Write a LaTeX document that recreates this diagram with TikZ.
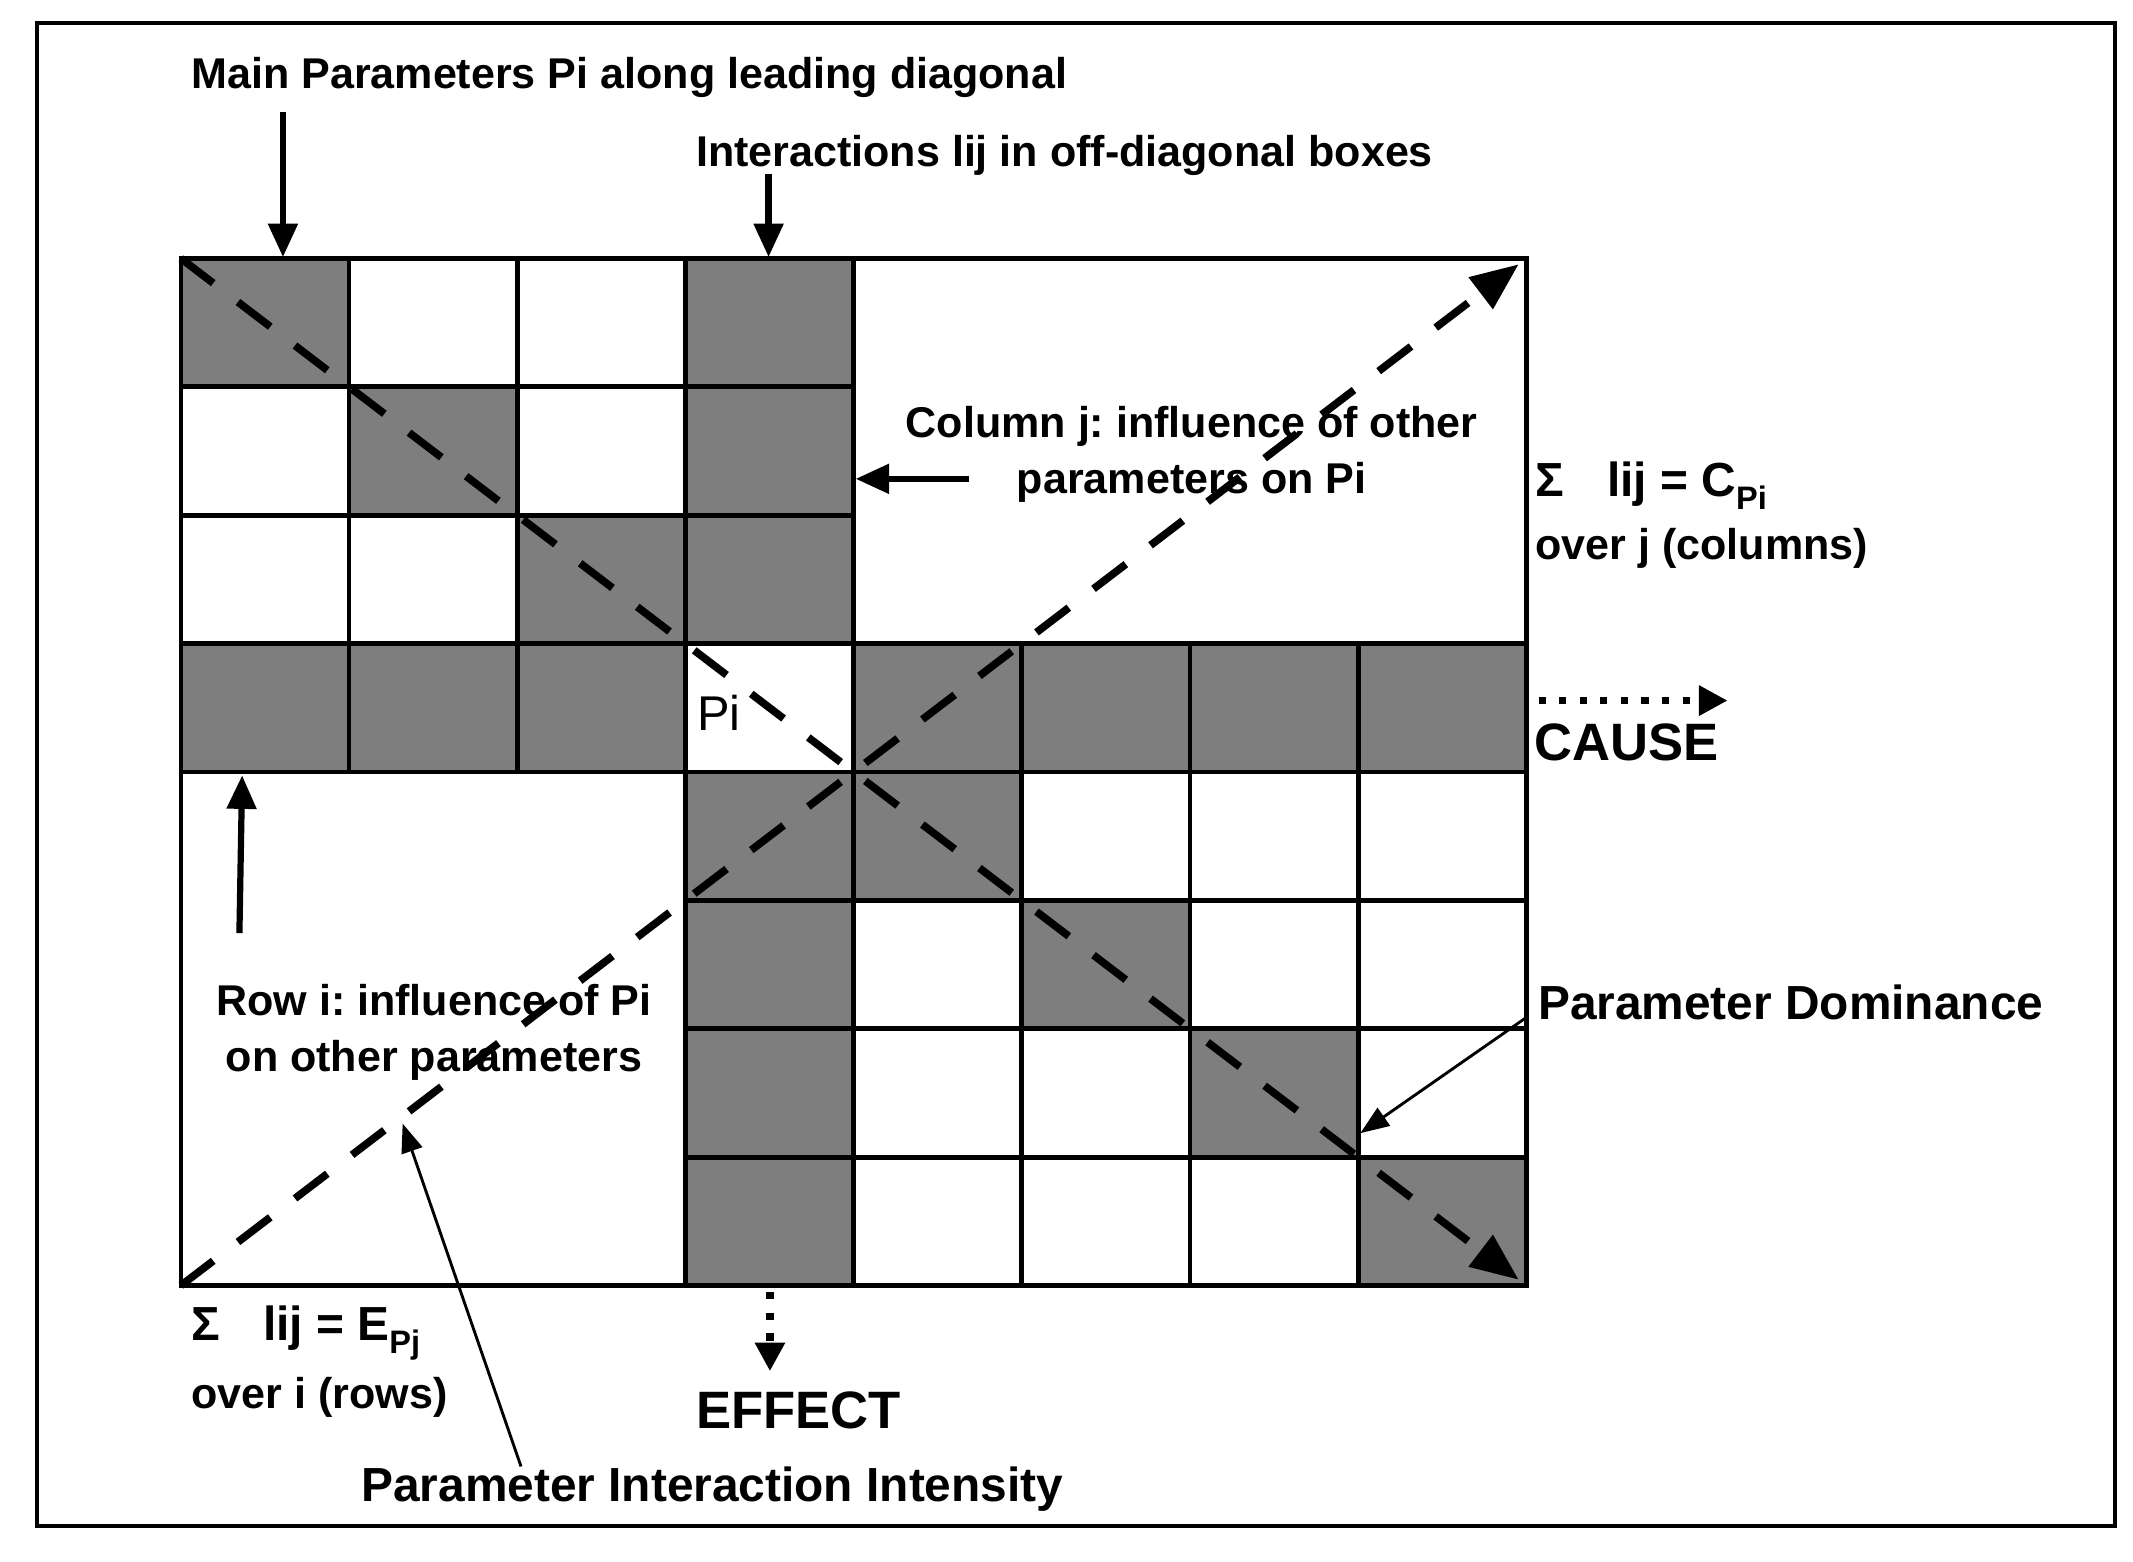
\documentclass[tikz,border=0pt]{standalone}
\usepackage{fontspec}
\setmainfont{Liberation Sans}
\usetikzlibrary{arrows.meta}
\definecolor{cellgray}{RGB}{126,126,126}
\newcommand{\mysub}[1]{\raisebox{-0.28em}{\fontsize{6.8}{8}\selectfont #1}}
\tikzset{
  lbl/.style={font=\fontsize{9}{12}\selectfont\bfseries, inner sep=0pt, anchor=west},
  lbll/.style={font=\fontsize{10}{12}\selectfont\bfseries, inner sep=0pt, anchor=west},
  clbl/.style={font=\fontsize{9}{11.6}\selectfont\bfseries\frenchspacing, inner sep=0pt, align=center},
  biglbl/.style={font=\fontsize{11}{13}\selectfont\bfseries, inner sep=0pt},
  cellbox/.style={draw, line width=1pt},
  bigarrow/.style={line width=1.3pt, -{Triangle[length=7pt,width=6pt]}},
  thinarrow/.style={line width=0.6pt, -{Triangle[length=6pt,width=4.5pt]}},
  dotarrow/.style={line width=1.5pt, dash pattern=on 1.5pt off 2.8pt, -{Triangle[length=6pt,width=6pt]}},
  diagline/.style={line width=1.6pt, dash pattern=on 8.5pt off 6.5pt, -{Triangle[length=10pt,width=8pt]}, shorten >=2pt},
}
\begin{document}
\begin{tikzpicture}[x=0.01cm,y=-0.01cm]
\useasboundingbox (0,0) rectangle (1568,1148);
% outer frame
\draw[line width=0.9pt] (27,17) rectangle (1555,1122);
% shaded cells
\foreach \c/\r in {0/0,3/0,1/1,3/1,2/2,3/2,0/3,1/3,2/3,4/3,5/3,6/3,7/3,3/4,4/4,3/5,5/5,3/6,6/6,3/7,7/7}
  \fill[cellgray] ({133+\c*123.625},{190+\r*94.375}) rectangle ++(123.625,94.375);
% all cell borders
\foreach \c/\r in {0/0,1/0,2/0,3/0,0/1,1/1,2/1,3/1,0/2,1/2,2/2,3/2,0/3,1/3,2/3,3/3,4/3,5/3,6/3,7/3,
                   3/4,4/4,5/4,6/4,7/4,3/5,4/5,5/5,6/5,7/5,3/6,4/6,5/6,6/6,7/6,3/7,4/7,5/7,6/7,7/7}
  \draw[cellbox] ({133+\c*123.625},{190+\r*94.375}) rectangle ++(123.625,94.375);
\draw[cellbox] (133,190) rectangle (1122,945);
% grid corners
\coordinate (gTL) at (133,190);
\coordinate (gBR) at (1122,945);
\coordinate (gBL) at (133,945);
\coordinate (gTR) at (1122,190);
% Pi label
\node[inner sep=0pt, anchor=west, font=\fontsize{10.2}{12}\selectfont] (pi) at (512,524) {Pi};
% diagonals
\draw[diagline] (gTL) -- (gBR);
\draw[diagline] (gBL) -- (gTR);
% labels
\node[lbl] (mainlbl) at (140,57) {Main Parameters Pi along leading diagonal};
\node[lbl] (intlbl) at (511,114) {Interactions lij in off-diagonal boxes};
\node[clbl] (collbl) at (876,334) {Column j: influence of other\\parameters on Pi};
\node[lbll] (csum) at (1128,357) {Σ\hspace{9pt}lij = C\mysub{Pi}};
\node[lbl] (cover) at (1128,403) {over j (columns)};
\node[biglbl, anchor=west] (cause) at (1127,546) {CAUSE};
\node[clbl] (rowlbl) at (319,759) {Row i: influence of Pi\\on other parameters};
\node[lbll] (domlbl) at (1130,737) {Parameter Dominance};
\node[lbll] (esum) at (140,980) {Σ\hspace{9pt}lij = E\mysub{Pj}};
\node[lbl] (eover) at (140,1027) {over i (rows)};
\node[biglbl] (effect) at (587,1037) {EFFECT};
\node[lbll] (piilbl) at (265,1095) {Parameter Interaction Intensity};
% arrow endpoints
\coordinate (a1s) at (208,82);   \coordinate (a1e) at (208,189);
\coordinate (a2s) at (565,128);  \coordinate (a2e) at (565,189);
\coordinate (a3s) at (712,352);  \coordinate (a3e) at (629,352);
\coordinate (a4s) at (176,686);  \coordinate (a4e) at (178,570);
\coordinate (a5s) at (1122,748); \coordinate (a5e) at (1000,833);
\coordinate (a6s) at (383,1078); \coordinate (a6e) at (296,826);
\coordinate (a7s) at (1131,515); \coordinate (a7e) at (1270,515);
\coordinate (a8s) at (566,950);  \coordinate (a8e) at (566,1008);
% arrows
\draw[bigarrow] (a1s) -- (a1e);
\draw[bigarrow] (a2s) -- (a2e);
\draw[bigarrow] (a3s) -- (a3e);
\draw[bigarrow] (a4s) -- (a4e);
\draw[thinarrow] (a5s) -- (a5e);
\draw[thinarrow] (a6s) -- (a6e);
\draw[dotarrow] (a7s) -- (a7e);
\draw[dotarrow] (a8s) -- (a8e);
\end{tikzpicture}
\end{document}
